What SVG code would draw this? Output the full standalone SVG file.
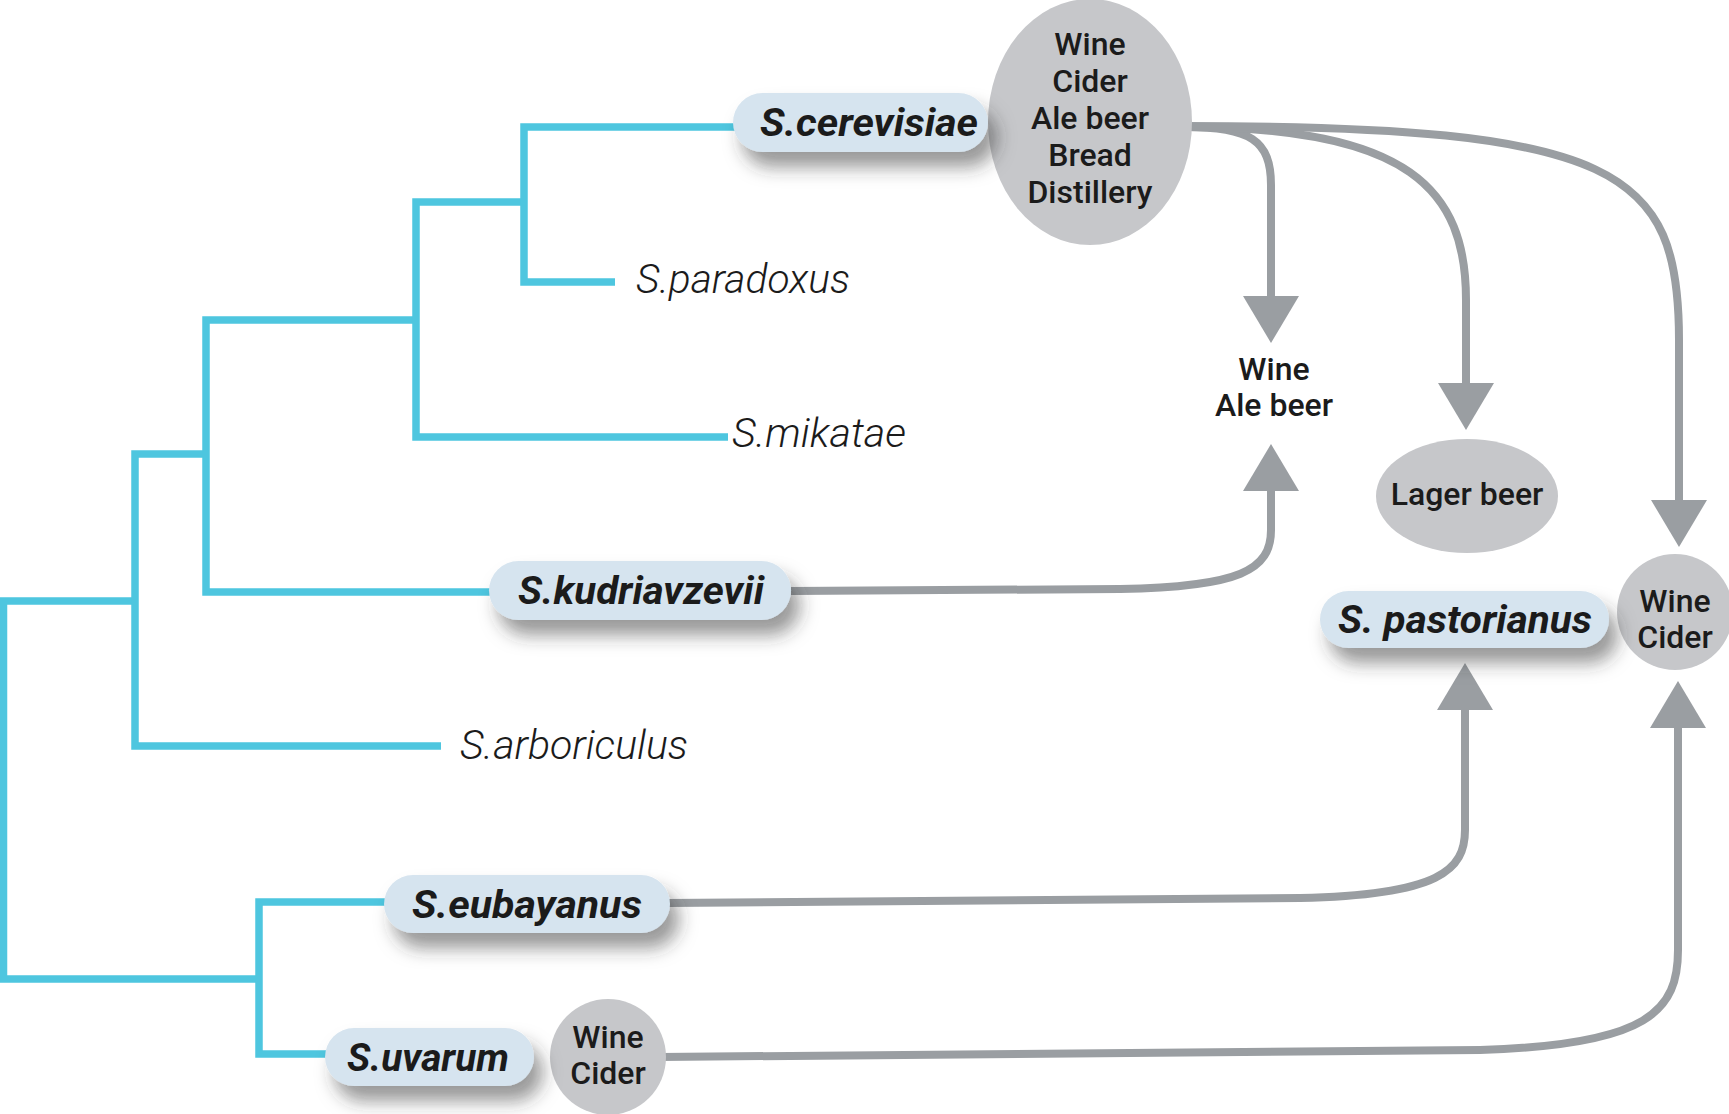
<svg xmlns="http://www.w3.org/2000/svg" width="1729" height="1114" viewBox="0 0 1729 1114">
<style>
.tree{fill:none;stroke:#4EC6DF;stroke-width:7.5;stroke-linejoin:miter;stroke-linecap:butt}
.con{fill:none;stroke:#9A9EA2;stroke-width:8}
.pill{fill:#D6E4EF;filter:url(#sh)}
.ell{fill:#C6C7CA}
.pl{font-family:Roboto,"Liberation Sans",sans-serif;font-weight:700;font-style:italic;font-size:38px;fill:#1b1b1b;text-anchor:middle}
.sp{font-family:Roboto,"Liberation Sans",sans-serif;font-weight:300;font-style:italic;font-size:40px;fill:#1b1b1b}
.et{font-family:Roboto,"Liberation Sans",sans-serif;font-weight:500;font-size:32px;fill:#1b1b1b;text-anchor:middle}
</style>
<defs>
<filter id="sh" x="-20%" y="-50%" width="150%" height="220%">
<feDropShadow dx="9" dy="15" stdDeviation="9" flood-color="#333333" flood-opacity="0.5"/>
</filter>
<marker id="ah" markerUnits="userSpaceOnUse" markerWidth="50" markerHeight="56" refX="0" refY="28" orient="auto" viewBox="0 0 50 56">
<path d="M0,0 L47,28 L0,56 Z" fill="#9A9EA2"/>
</marker>
</defs>
<g id="tree">
<path class="tree" d="M135,601 H3.5 V979 H259"/>
<path class="tree" d="M386,902 H259 V1054 H328"/>
<path class="tree" d="M206,454 H135 V746 H441"/>
<path class="tree" d="M416,320 H206 V592 H491"/>
<path class="tree" d="M524,202 H416 V437 H728"/>
<path class="tree" d="M735,127 H524 V282 H615"/>
</g>
<g id="connectors">
<path class="con" marker-end="url(#ah)" d="M1185,127 C1250,127 1271,140 1271,185 L1271,296"/>
<path class="con" marker-end="url(#ah)" d="M1185,127 C1410,127 1466,190 1466,300 L1466,383"/>
<path class="con" marker-end="url(#ah)" d="M1185,126 C1620,126 1679,170 1679,340 L1679,500"/>
<path class="con" marker-end="url(#ah)" d="M791,591 L1120,589 C1240,587 1271,570 1271,530 L1271,491"/>
<path class="con" marker-end="url(#ah)" d="M668,903 L1300,898 C1440,895 1465,870 1465,830 L1465,710"/>
<path class="con" marker-end="url(#ah)" d="M660,1057 L1480,1050 C1650,1045 1678,1010 1678,950 L1678,728"/>
</g>
<g id="uses-cerevisiae">
<ellipse class="ell" cx="1090" cy="122" rx="102" ry="123"/>
<text class="et" x="1090" y="55">Wine</text>
<text class="et" x="1090" y="92">Cider</text>
<text class="et" x="1090" y="129">Ale beer</text>
<text class="et" x="1090" y="166">Bread</text>
<text class="et" x="1090" y="203">Distillery</text>
</g>
<g id="uses-wine-ale">
<text class="et" x="1274" y="380">Wine</text>
<text class="et" x="1274" y="416">Ale beer</text>
</g>
<g id="lager">
<ellipse class="ell" cx="1467" cy="496" rx="91" ry="57"/>
<text class="et" x="1467" y="505">Lager beer</text>
</g>
<g id="uses-pastorianus">
<circle class="ell" cx="1675" cy="612" r="58"/>
<text class="et" x="1675" y="612">Wine</text>
<text class="et" x="1675" y="648">Cider</text>
</g>
<g id="uses-uvarum">
<circle class="ell" cx="608" cy="1057" r="58"/>
<text class="et" x="608" y="1048">Wine</text>
<text class="et" x="608" y="1084">Cider</text>
</g>
<g id="s-cerevisiae">
<rect class="pill" x="733" y="93" width="255" height="59" rx="29.5"/>
<text class="pl" x="869" y="136" textLength="218" lengthAdjust="spacingAndGlyphs">S.cerevisiae</text>
</g>
<g id="s-paradoxus">
<text class="sp" x="636" y="293" textLength="214" lengthAdjust="spacingAndGlyphs">S.paradoxus</text>
</g>
<g id="s-mikatae">
<text class="sp" x="732" y="447" textLength="174" lengthAdjust="spacingAndGlyphs">S.mikatae</text>
</g>
<g id="s-kudriavzevii">
<rect class="pill" x="489" y="561" width="302" height="59" rx="29.5"/>
<text class="pl" x="641" y="604" textLength="246" lengthAdjust="spacingAndGlyphs">S.kudriavzevii</text>
</g>
<g id="s-arboriculus">
<text class="sp" x="460" y="759" textLength="228" lengthAdjust="spacingAndGlyphs">S.arboriculus</text>
</g>
<g id="s-eubayanus">
<rect class="pill" x="384" y="875" width="286" height="58" rx="29"/>
<text class="pl" x="527" y="918" textLength="230" lengthAdjust="spacingAndGlyphs">S.eubayanus</text>
</g>
<g id="s-uvarum">
<rect class="pill" x="325" y="1028" width="209" height="58" rx="29"/>
<text class="pl" x="428" y="1071" textLength="162" lengthAdjust="spacingAndGlyphs">S.uvarum</text>
</g>
<g id="s-pastorianus">
<rect class="pill" x="1320" y="591" width="289" height="57" rx="28.5"/>
<text class="pl" x="1465" y="633" textLength="254" lengthAdjust="spacingAndGlyphs">S. pastorianus</text>
</g>
</svg>
